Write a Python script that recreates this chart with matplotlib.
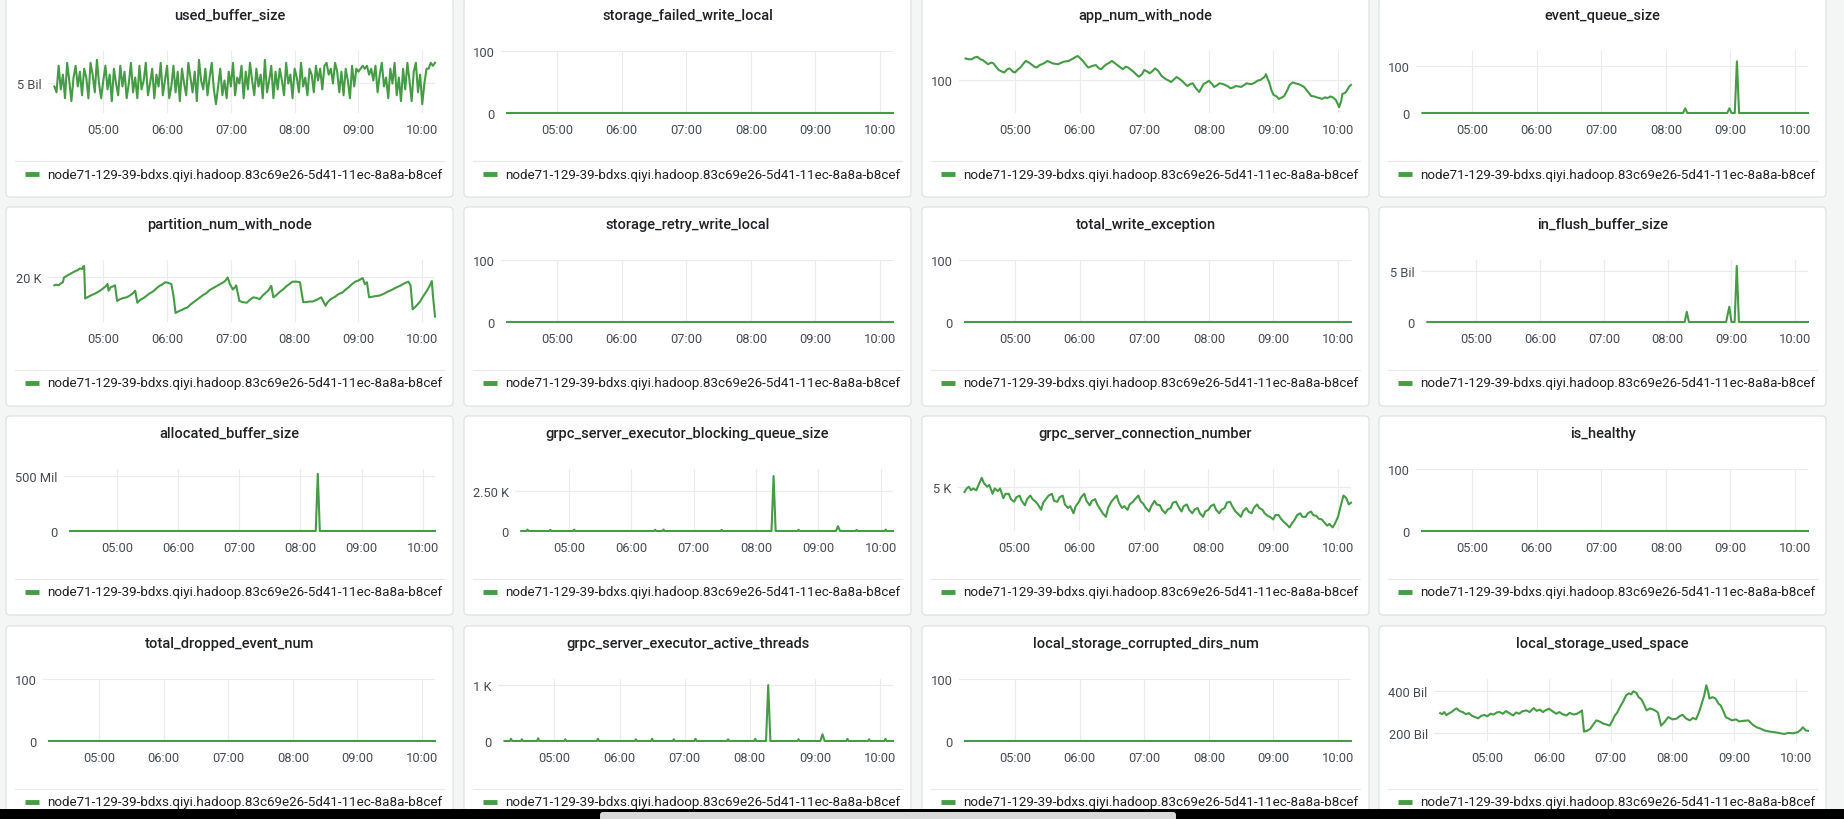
import matplotlib

matplotlib.use("Agg")
import matplotlib.pyplot as plt
import matplotlib.dates as mdates
import pandas as pd
from matplotlib.patches import FancyBboxPatch, Rectangle

plt.rcParams["font.family"] = ["Roboto", "DejaVu Sans"]

W, H = 1844, 820
DAY = "2021-12-20 "
GREEN = "#459c45"
BG = "#f4f5f5"

# the legend name is cut by the panel in the screenshot; keep the visible part
SERIES_NAME = "node71-129-39-bdxs.qiyi.hadoop.83c69e26-5d41-11ec-8a8a-b8cef"

# ---- data ----
flat_times = ["04:14", "10:12"]
flat_values = [0, 0]

# used_buffer_size, one sample every 2 minutes from 04:14, in Bil
used_buffer_bil = [
    4.9, 4.7, 5.6, 4.8, 5.3, 4.5, 5.7, 5.1, 4.4, 5.2, 5.6, 4.9, 5.4, 4.6, 5.5,
    5.2, 4.5, 5.7, 5.3, 4.7, 5.8, 5.0, 4.5, 5.1, 5.6, 4.8, 5.3, 4.4, 5.5, 5.0,
    4.6, 5.6, 4.9, 5.4, 4.5, 5.0, 5.7, 4.7, 5.2, 4.5, 5.6, 4.8, 5.1, 5.7, 4.6,
    5.0, 5.5, 4.5, 5.3, 4.9, 5.7, 4.6, 5.1, 5.6, 4.5, 4.9, 5.6, 4.7, 5.4, 4.4,
    5.5, 5.0, 4.6, 5.7, 5.2, 4.7, 5.4, 4.4, 5.8, 5.1, 4.8, 5.5, 4.6, 5.2, 5.7,
    4.8, 4.3, 4.9, 5.5, 4.6, 5.1, 4.5, 5.4, 4.9, 5.7, 4.6, 5.2, 5.0, 5.6, 4.5,
    5.4, 4.8, 5.7, 5.1, 4.6, 5.5, 4.9, 5.3, 4.5, 5.8, 4.7, 5.1, 5.6, 4.5, 5.4,
    4.8, 5.5, 5.1, 4.6, 5.7, 5.0, 5.3, 4.5, 5.5, 5.2, 4.7, 5.7, 4.9, 5.2, 4.6,
    5.5, 5.3, 4.7, 5.6, 5.1, 5.5, 4.8, 5.6, 5.7, 5.3, 5.5, 5.0, 5.7, 5.4, 4.7,
    5.4, 4.6, 5.5, 5.1, 4.5, 5.6, 4.9, 5.5, 5.4, 5.5, 5.6, 5.5, 5.6, 5.3, 5.5,
    5.1, 5.6, 4.7, 5.3, 5.7, 4.9, 5.2, 4.5, 5.5, 5.0, 5.7, 4.6, 5.2, 4.4, 5.5,
    4.8, 5.7, 5.1, 4.4, 5.4, 5.7, 4.7, 5.3, 4.3, 5.0, 5.5, 5.5, 5.7, 5.6, 5.7,
]

app_num_times = [
    "04:14", "04:17", "04:20", "04:22", "04:25", "04:28", "04:30", "04:33", "04:35", "04:38",
    "04:40", "04:43", "04:45", "04:48", "04:50", "04:53", "04:55", "04:58", "05:00", "05:03",
    "05:05", "05:08", "05:10", "05:13", "05:15", "05:18", "05:20", "05:23", "05:25", "05:28",
    "05:30", "05:35", "05:40", "05:45", "05:50", "05:54", "05:58", "06:00", "06:03", "06:06",
    "06:08", "06:12", "06:15", "06:18", "06:20", "06:23", "06:25", "06:28", "06:30", "06:33",
    "06:35", "06:38", "06:40", "06:43", "06:45", "06:48", "06:50", "06:53", "06:55", "06:58",
    "07:00", "07:03", "07:05", "07:08", "07:10", "07:13", "07:16", "07:20", "07:23", "07:25",
    "07:28", "07:30", "07:33", "07:35", "07:38", "07:40", "07:43", "07:45", "07:48", "07:51",
    "07:53", "07:55", "07:58", "08:00", "08:03", "08:05", "08:08", "08:10", "08:13", "08:15",
    "08:18", "08:20", "08:23", "08:25", "08:28", "08:30", "08:33", "08:35", "08:38", "08:40",
    "08:43", "08:45", "08:48", "08:50", "08:52", "08:53", "08:55", "08:56", "08:58", "09:00",
    "09:03", "09:05", "09:08", "09:10", "09:13", "09:15", "09:18", "09:20", "09:23", "09:25",
    "09:28", "09:30", "09:33", "09:35", "09:38", "09:40", "09:43", "09:45", "09:48", "09:50",
    "09:53", "09:55", "09:58", "10:00", "10:01", "10:03", "10:04", "10:06", "10:07", "10:09",
    "10:10", "10:12",
]
app_num_values = [
    126, 125, 125, 127, 128, 125, 124, 121, 119, 121,
    120, 115, 112, 110, 109, 113, 114, 110, 109, 113,
    115, 120, 123, 121, 119, 116, 115, 118, 119, 121,
    123, 120, 119, 122, 123, 126, 129, 127, 123, 118,
    115, 117, 118, 114, 113, 117, 119, 121, 123, 120,
    118, 115, 113, 116, 115, 112, 110, 106, 104, 107,
    112, 110, 108, 111, 114, 111, 105, 101, 99, 97.5,
    101, 103.5, 101, 99, 95, 92.7, 95, 96, 90, 85.4,
    90, 95, 97, 99, 95, 91.5, 94, 96, 95, 94,
    92, 90, 91, 92.7, 92, 91.5, 94, 96, 95, 95,
    97, 99, 100, 102, 104, 107, 100, 97.5, 88, 82,
    80, 77, 79, 80.6, 88, 94, 97, 96, 95, 94,
    92, 89, 84, 80.6, 80, 79, 78, 77, 79, 78,
    80, 79, 75.7, 70, 67, 75, 83, 84, 85, 89,
    91.5, 94,
]

event_queue_times = ["04:14", "08:16", "08:18", "08:20", "08:57", "08:59", "09:01",
                     "09:04", "09:06", "09:08", "10:12"]
event_queue_values = [0, 0, 10, 0, 0, 10, 0, 0, 110, 0, 0]

partition_times = [
    "04:14", "04:16", "04:18", "04:20", "04:22", "04:23", "04:26", "04:29", "04:31", "04:34",
    "04:36", "04:38", "04:40", "04:41", "04:42", "04:43", "04:45", "04:48", "04:52", "04:55",
    "04:57", "05:00", "05:02", "05:04", "05:05", "05:07", "05:09", "05:11", "05:13", "05:16",
    "05:19", "05:22", "05:25", "05:28", "05:30", "05:32", "05:35", "05:38", "05:41", "05:44",
    "05:47", "05:50", "05:53", "05:56", "05:58", "06:01", "06:04", "06:06", "06:08", "06:11",
    "06:14", "06:17", "06:19", "06:22", "06:25", "06:28", "06:31", "06:34", "06:37", "06:40",
    "06:43", "06:46", "06:50", "06:53", "06:55", "06:57", "06:59", "07:02", "07:04", "07:05",
    "07:08", "07:11", "07:15", "07:18", "07:21", "07:24", "07:27", "07:30", "07:33", "07:35",
    "07:38", "07:40", "07:43", "07:46", "07:49", "07:52", "07:55", "07:58", "08:02", "08:05",
    "08:08", "08:11", "08:14", "08:17", "08:21", "08:25", "08:29", "08:31", "08:34", "08:38",
    "08:41", "08:45", "08:48", "08:51", "08:54", "08:57", "09:00", "09:04", "09:06", "09:08",
    "09:10", "09:13", "09:16", "09:20", "09:24", "09:27", "09:31", "09:35", "09:39", "09:43",
    "09:47", "09:49", "09:51", "09:54", "09:58", "10:01", "10:04", "10:07", "10:09", "10:10",
    "10:12",
]
partition_values_k = [
    18.6, 18.7, 18.6, 18.9, 19.1, 19.9, 20.2, 20.5, 20.7, 21.0,
    21.1, 21.4, 21.3, 21.7, 21.8, 16.4, 16.6, 16.9, 17.2, 17.5,
    17.7, 18.1, 18.4, 18.8, 17.7, 18.3, 18.4, 18.6, 16.0, 16.3,
    16.5, 16.6, 16.9, 17.3, 17.7, 15.7, 16.2, 16.5, 16.9, 17.3,
    17.6, 18.1, 18.5, 18.8, 19.1, 19.0, 18.8, 16.9, 14.0, 14.3,
    14.5, 14.8, 14.9, 15.4, 15.8, 16.2, 16.6, 17.0, 17.3, 17.8,
    18.1, 18.4, 18.8, 19.1, 19.4, 19.9, 18.8, 17.9, 18.3, 18.6,
    16.0, 15.8, 15.7, 16.2, 16.6, 16.5, 16.3, 16.9, 17.4, 17.7,
    18.5, 16.6, 17.0, 17.5, 17.9, 18.4, 18.8, 19.2, 19.2, 19.1,
    15.8, 15.8, 15.9, 15.9, 16.2, 16.6, 15.2, 15.8, 16.3, 16.7,
    17.1, 17.4, 17.9, 18.3, 18.8, 19.2, 19.4, 19.8, 18.8, 19.1,
    16.6, 16.7, 16.8, 16.9, 17.2, 17.5, 17.8, 18.2, 18.5, 18.9,
    19.2, 18.6, 14.6, 15.1, 15.9, 16.8, 17.6, 18.5, 19.3, 17.0,
    13.4,
]

in_flush_times = ["04:14", "08:16", "08:18", "08:20", "08:55", "08:58", "09:00",
                  "09:03", "09:05", "09:07", "10:12"]
in_flush_values_bil = [0, 0, 1.0, 0, 0, 1.5, 0, 0, 5.5, 0, 0]

allocated_times = ["04:14", "08:15", "08:17", "08:19", "10:12"]
allocated_values_mil = [0, 0, 520, 0, 0]

blocking_times = [
    "04:14", "04:19", "04:20", "04:21", "04:41", "04:42", "04:43", "05:04", "05:05", "05:06",
    "06:22", "06:23", "06:24", "06:30", "06:31", "06:32", "07:26", "07:27", "07:28", "08:15",
    "08:17", "08:19", "08:40", "08:41", "08:42", "09:17", "09:19", "09:21", "09:36", "09:37",
    "09:38", "10:04", "10:05", "10:06", "10:12",
]
blocking_values = [
    0, 0, 90, 0, 0, 70, 0, 0, 90, 0,
    0, 80, 0, 0, 90, 0, 0, 70, 0, 0,
    3460, 0, 0, 80, 0, 0, 300, 0, 0, 70,
    0, 0, 90, 0, 0,
]

connection_times = [
    "04:14", "04:16", "04:18", "04:20", "04:22", "04:25", "04:27", "04:30", "04:32", "04:35",
    "04:37", "04:40", "04:42", "04:45", "04:47", "04:50", "04:52", "04:55", "04:57", "05:00",
    "05:02", "05:05", "05:07", "05:10", "05:12", "05:15", "05:17", "05:20", "05:22", "05:25",
    "05:27", "05:30", "05:32", "05:35", "05:37", "05:40", "05:42", "05:45", "05:47", "05:50",
    "05:52", "05:55", "05:57", "06:00", "06:02", "06:05", "06:07", "06:10", "06:12", "06:15",
    "06:17", "06:20", "06:22", "06:25", "06:27", "06:30", "06:32", "06:35", "06:37", "06:40",
    "06:42", "06:45", "06:47", "06:50", "06:52", "06:55", "06:57", "07:00", "07:02", "07:05",
    "07:07", "07:10", "07:12", "07:15", "07:17", "07:20", "07:22", "07:25", "07:27", "07:30",
    "07:32", "07:35", "07:37", "07:40", "07:42", "07:45", "07:47", "07:50", "07:52", "07:55",
    "07:57", "08:00", "08:02", "08:05", "08:07", "08:10", "08:12", "08:15", "08:17", "08:20",
    "08:22", "08:25", "08:27", "08:30", "08:32", "08:35", "08:37", "08:40", "08:42", "08:45",
    "08:47", "08:50", "08:52", "08:55", "08:57", "09:00", "09:02", "09:05", "09:07", "09:10",
    "09:12", "09:15", "09:17", "09:20", "09:22", "09:25", "09:27", "09:30", "09:32", "09:35",
    "09:37", "09:40", "09:42", "09:45", "09:47", "09:50", "09:52", "09:55", "09:57", "10:00",
    "10:02", "10:05", "10:07", "10:08", "10:10", "10:12",
]
connection_values_k = [
    4.7, 4.9, 5.0, 4.8, 4.9, 4.8, 5.1, 5.5, 5.2, 5.0,
    5.1, 4.6, 4.9, 4.75, 4.9, 4.35, 4.6, 4.6, 4.3, 4.15,
    4.4, 4.5, 4.2, 3.95, 4.3, 4.5, 4.3, 4.15, 4.0, 3.7,
    4.1, 4.35, 4.5, 4.6, 4.2, 4.15, 4.4, 4.5, 4.0, 3.8,
    3.9, 3.5, 3.9, 4.15, 4.4, 4.6, 4.2, 3.95, 4.2, 4.3,
    4.0, 3.7, 3.5, 3.3, 3.8, 4.15, 4.3, 4.5, 4.1, 3.8,
    3.9, 3.7, 4.0, 4.15, 4.3, 4.5, 4.2, 4.0, 3.8, 3.6,
    3.9, 4.2, 4.0, 3.95, 3.7, 3.5, 3.7, 3.8, 4.1, 4.15,
    3.9, 3.6, 3.9, 4.0, 3.7, 3.5, 3.7, 3.8, 3.5, 3.3,
    3.6, 3.7, 3.9, 4.0, 3.7, 3.5, 3.7, 3.8, 4.1, 4.15,
    3.9, 3.6, 3.5, 3.3, 3.6, 3.8, 3.6, 3.5, 3.8, 4.0,
    3.8, 3.7, 3.5, 3.35, 3.3, 3.15, 3.4, 3.4, 3.2, 3.0,
    2.9, 2.7, 2.9, 3.15, 3.4, 3.5, 3.3, 3.3, 3.5, 3.6,
    3.4, 3.35, 3.2, 3.15, 3.0, 2.8, 2.9, 2.7, 2.9, 3.3,
    3.8, 4.5, 4.4, 4.3, 4.0, 4.1,
]

threads_times = [
    "04:14", "04:19", "04:20", "04:21", "04:29", "04:30", "04:31", "04:44", "04:45", "04:46",
    "05:09", "05:10", "05:11", "05:39", "05:40", "05:41", "06:14", "06:15", "06:16", "06:29",
    "06:30", "06:31", "06:49", "06:50", "06:51", "07:09", "07:10", "07:11", "07:39", "07:40",
    "07:41", "08:04", "08:05", "08:06", "08:15", "08:17", "08:19", "08:44", "08:45", "08:46",
    "09:05", "09:07", "09:09", "09:29", "09:30", "09:31", "09:49", "09:50", "09:51", "10:04",
    "10:05", "10:06", "10:12",
]
threads_values = [
    0, 0, 40, 0, 0, 30, 0, 0, 50, 0,
    0, 30, 0, 0, 40, 0, 0, 30, 0, 0,
    40, 0, 0, 30, 0, 0, 40, 0, 0, 30,
    0, 0, 40, 0, 0, 1000, 0, 0, 30, 0,
    0, 120, 0, 0, 40, 0, 0, 30, 0, 0,
    40, 0, 0,
]

storage_times = [
    "04:14", "04:16", "04:18", "04:20", "04:22", "04:25", "04:28", "04:30", "04:33", "04:36",
    "04:39", "04:42", "04:45", "04:48", "04:51", "04:54", "04:57", "05:00", "05:03", "05:06",
    "05:09", "05:12", "05:15", "05:18", "05:21", "05:25", "05:28", "05:31", "05:34", "05:38",
    "05:41", "05:45", "05:48", "05:51", "05:54", "05:57", "06:00", "06:03", "06:07", "06:10",
    "06:13", "06:17", "06:20", "06:24", "06:27", "06:30", "06:32", "06:34", "06:37", "06:40",
    "06:43", "06:46", "06:49", "06:53", "06:56", "06:59", "07:02", "07:04", "07:06", "07:09",
    "07:12", "07:15", "07:18", "07:20", "07:22", "07:25", "07:27", "07:30", "07:32", "07:35",
    "07:38", "07:41", "07:44", "07:46", "07:49", "07:52", "07:56", "08:00", "08:04", "08:07",
    "08:10", "08:13", "08:17", "08:20", "08:23", "08:26", "08:28", "08:31", "08:33", "08:35",
    "08:36", "08:39", "08:42", "08:45", "08:47", "08:50", "08:52", "08:55", "08:58", "09:02",
    "09:05", "09:09", "09:14", "09:18", "09:22", "09:26", "09:30", "09:35", "09:40", "09:45",
    "09:49", "09:53", "09:57", "10:02", "10:05", "10:07", "10:10", "10:12",
]
storage_values_bil = [
    295, 290, 300, 285, 292, 300, 312, 318, 305, 300,
    290, 295, 282, 276, 270, 282, 286, 280, 292, 288,
    298, 300, 292, 305, 296, 284, 298, 292, 304, 308,
    300, 319, 306, 312, 300, 310, 316, 305, 292, 300,
    290, 284, 296, 288, 292, 300, 308, 206, 210, 219,
    240, 260, 255, 244, 240, 235, 262, 284, 295, 324,
    350, 381, 390, 385, 400, 392, 373, 360, 340, 308,
    318, 313, 305, 297, 235, 250, 276, 265, 268, 280,
    287, 270, 260, 272, 265, 300, 332, 380, 429, 395,
    365, 372, 365, 340, 332, 300, 276, 268, 260, 265,
    255, 258, 260, 240, 227, 220, 211, 206, 203, 198,
    195, 200, 198, 203, 215, 227, 211, 210,
]

# ---- layout (pixels) ----
COL_X = [6, 464, 922, 1379]
ROW_Y = [-1, 208, 417, 627]
PANEL_W, PANEL_H = 447, 199
XMIN = pd.Timestamp(DAY + "04:08")
XMAX = pd.Timestamp(DAY + "10:12")


def tt(hhmm):
    return pd.to_datetime([DAY + s for s in hhmm])


used_buffer_times = pd.date_range(DAY + "04:14", periods=len(used_buffer_bil), freq="2min")

panels = [
    ("used_buffer_size", used_buffer_times, [v * 1e9 for v in used_buffer_bil],
     (4.0e9, 6.1e9), [5e9], ["5 Bil"], 42),
    ("storage_failed_write_local", tt(flat_times), flat_values, (0, 100), [0, 100], ["0", "100"], 37),
    ("app_num_with_node", tt(app_num_times), app_num_values, (60, 135), [100], ["100"], 37),
    ("event_queue_size", tt(event_queue_times), event_queue_values, (0, 132), [0, 100], ["0", "100"], 37),
    ("partition_num_with_node", tt(partition_times), [v * 1e3 for v in partition_values_k],
     (12500, 22800), [20000], ["20 K"], 42),
    ("storage_retry_write_local", tt(flat_times), flat_values, (0, 100), [0, 100], ["0", "100"], 37),
    ("total_write_exception", tt(flat_times), flat_values, (0, 100), [0, 100], ["0", "100"], 37),
    ("in_flush_buffer_size", tt(in_flush_times), [v * 1e9 for v in in_flush_values_bil],
     (0, 6.08e9), [0, 5e9], ["0", "5 Bil"], 42),
    ("allocated_buffer_size", tt(allocated_times), [v * 1e6 for v in allocated_values_mil],
     (0, 564e6), [0, 500e6], ["0", "500 Mil"], 58),
    ("grpc_server_executor_blocking_queue_size", tt(blocking_times), blocking_values,
     (0, 3900), [0, 2500], ["0", "2.50 K"], 51),
    ("grpc_server_connection_number", tt(connection_times), [v * 1e3 for v in connection_values_k],
     (2500, 6000), [5000], ["5 K"], 36),
    ("is_healthy", tt(flat_times), flat_values, (0, 100), [0, 100], ["0", "100"], 37),
    ("total_dropped_event_num", tt(flat_times), flat_values, (0, 100), [0, 100], ["0", "100"], 37),
    ("grpc_server_executor_active_threads", tt(threads_times), threads_values,
     (0, 1110), [0, 1000], ["0", "1 K"], 34),
    ("local_storage_corrupted_dirs_num", tt(flat_times), flat_values, (0, 100), [0, 100], ["0", "100"], 37),
    ("local_storage_used_space", tt(storage_times), [v * 1e9 for v in storage_values_bil],
     (161e9, 459e9), [200e9, 400e9], ["200 Bil", "400 Bil"], 55),
]


def fig_rect(x, y, w, h):
    return [x / W, 1 - (y + h) / H, w / W, h / H]


fig = plt.figure(figsize=(W / 100, H / 100), dpi=100)
fig.patch.set_facecolor(BG)

bg = fig.add_axes([0, 0, 1, 1])
bg.set_xlim(0, W)
bg.set_ylim(H, 0)
bg.axis("off")

for i, (title, xs, ys, ylim, yticks, ylabels, left) in enumerate(panels):
    px = COL_X[i % 4]
    py = ROW_Y[i // 4]

    # panel card
    bg.add_patch(FancyBboxPatch((px, py), PANEL_W, PANEL_H,
                                boxstyle="round,pad=0,rounding_size=4",
                                facecolor="white", edgecolor="#dcdee1", linewidth=0.8))
    bg.text(px + PANEL_W / 2, py + 17, title, ha="center", va="center",
            fontsize=10.5, fontweight="medium", color="#202226")
    bg.plot([px + 9, px + PANEL_W - 9], [py + 163, py + 163], color="#e7e8ea", lw=0.8)
    bg.plot([px + 19, px + 33], [py + 176, py + 176], color=GREEN, lw=3.5, solid_capstyle="butt")
    bg.text(px + 41, py + 176, SERIES_NAME, ha="left", va="center", fontsize=9.6,
            color="#1f2124")

    # the graph itself
    ax = fig.add_axes(fig_rect(px + left, py + 53, PANEL_W - 18 - left, 62))
    ax.set_facecolor("none")
    for s in ax.spines.values():
        s.set_visible(False)
    ax.plot(xs, ys, color=GREEN, lw=1.5, clip_on=False, solid_joinstyle="round")
    ax.set_xlim(XMIN, XMAX)
    ax.set_ylim(*ylim)
    ax.set_yticks(yticks, ylabels)
    ax.xaxis.set_major_locator(mdates.HourLocator())
    ax.xaxis.set_major_formatter(mdates.DateFormatter("%H:%M"))
    ax.grid(True, color="#ebebeb", lw=0.8)
    ax.set_axisbelow(True)
    ax.tick_params(length=0, labelsize=9.3, colors="#464c54")
    ax.tick_params(axis="x", pad=7)
    ax.tick_params(axis="y", pad=4.5)

# screen-capture edge at the bottom
ov = fig.add_axes([0, 0, 1, 1])
ov.set_xlim(0, W)
ov.set_ylim(H, 0)
ov.axis("off")
ov.set_zorder(10)
ov.add_patch(Rectangle((0, 810), W, 10, facecolor="black", edgecolor="none"))
ov.add_patch(FancyBboxPatch((600, 813), 576, 9, boxstyle="round,pad=0,rounding_size=3",
                            facecolor="#d8d8d8", edgecolor="none"))

fig.savefig("out.png", dpi=100, facecolor=fig.get_facecolor())
plt.close(fig)
